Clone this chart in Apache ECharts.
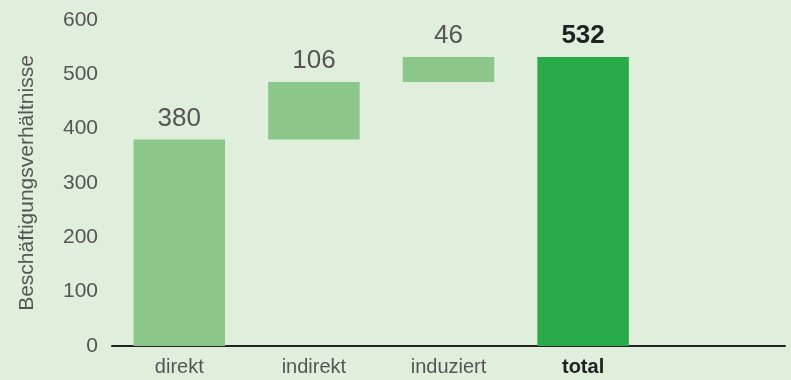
<!DOCTYPE html>
<html>
<head>
<meta charset="utf-8">
<script src="https://cdn.jsdelivr.net/npm/echarts@6/dist/echarts.min.js"></script>
<style>
html,body{margin:0;padding:0;background:#e0eedc;}
#chart{width:791px;height:380px;}
</style>
</head>
<body>
<div id="chart"></div>
<script>
// Waterfall of employment effects
const categories = ['direkt', 'indirekt', 'induziert', 'total', ''];
const values = [380, 106, 46, 532, null];
const isTotal = [false, false, false, true, false];
const yTicks = [0, 100, 200, 300, 400, 500, 600];

// Invisible base so each step starts where the previous one ended
const base = [];
let running = 0;
values.forEach((v, i) => {
  if (v == null) { base.push(null); return; }
  if (isTotal[i]) { base.push(0); }
  else { base.push(running); running += v; }
});

const chart = echarts.init(document.getElementById('chart'), null, {renderer: 'canvas'});
const font = 'Liberation Sans, Arial, Helvetica, sans-serif';

chart.setOption({
  backgroundColor: '#e0eedc',
  animation: false,
  grid: {left: 112, right: 6, top: 20, bottom: 34},
  xAxis: {
    type: 'category',
    data: categories,
    axisLine: {lineStyle: {color: '#222', width: 2}},
    axisTick: {show: false},
    axisLabel: {
      fontFamily: font, fontSize: 20, color: '#555', margin: 11,
      formatter: v => v === 'total' ? '{b|total}' : v,
      rich: {b: {fontFamily: font, fontSize: 20, fontWeight: 'bold', color: '#222'}}
    }
  },
  yAxis: {
    type: 'value',
    min: yTicks[0], max: yTicks[yTicks.length - 1], interval: 100,
    splitLine: {show: false},
    axisLine: {show: false},
    axisTick: {show: false},
    axisLabel: {fontFamily: font, fontSize: 21, color: '#555', margin: 14},
    name: 'Beschäftigungsverhältnisse',
    nameLocation: 'middle',
    nameGap: 74,
    nameTextStyle: {fontFamily: font, fontSize: 21, color: '#555'}
  },
  series: [
    {
      type: 'bar', stack: 'w', data: base,
      itemStyle: {color: 'transparent'},
      barWidth: '68%', silent: true
    },
    {
      type: 'bar', stack: 'w',
      barWidth: '68%',
      data: values.map((v, i) => ({
        value: v,
        itemStyle: {color: isTotal[i] ? '#2aab4a' : '#8bc78a'},
        label: isTotal[i]
          ? {fontWeight: 'bold', color: '#222'}
          : {fontWeight: 'normal', color: '#555'}
      })),
      label: {
        show: true, position: 'top', distance: 8,
        fontFamily: font, fontSize: 26,
        formatter: p => p.value == null ? '' : p.value
      }
    }
  ]
});
</script>
</body>
</html>
